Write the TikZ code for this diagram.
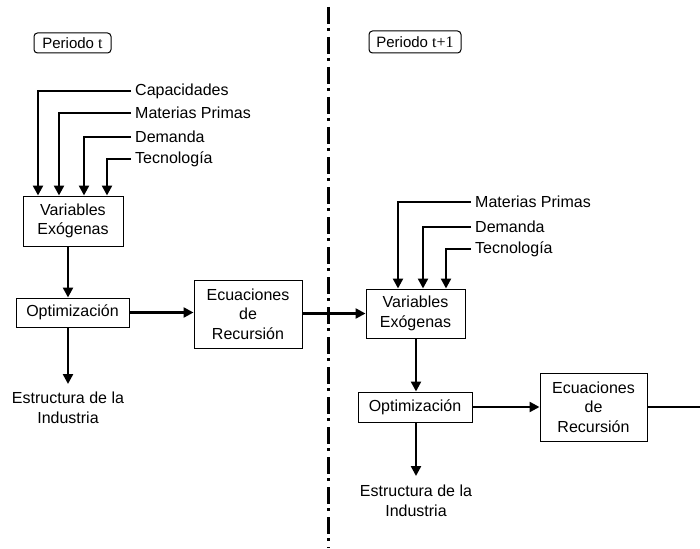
\documentclass[tikz,border=0pt]{standalone}
\usepackage{fontspec}
\setmainfont{Liberation Sans}
\newfontfamily\tfont{Liberation Serif}
\usetikzlibrary{arrows.meta}
\begin{document}
\begin{tikzpicture}[x=1pt,y=-1pt,
  every node/.style={font=\fontsize{16}{19.5}\selectfont},
  box/.style={draw,line width=1pt,align=center,inner sep=0pt},
  tag/.style={draw,line width=1pt,rounded corners=3.5pt,inner sep=0pt,
    font=\fontsize{15}{17}\selectfont},
  input/.style={anchor=west,inner xsep=4pt,inner ysep=0pt},
  plain/.style={align=center,inner sep=0pt},
  link/.style={line width=2.4pt},
  arr/.style={line width=2.4pt,-{Triangle[length=10pt,width=10pt]}}]
\useasboundingbox (0,0) rectangle (700,548);

% period separator
\draw[line width=3pt,dash pattern=on 17pt off 4pt on 3pt off 6pt] (328,7) -- (328,548);

% ---- period t ----
\node[tag,minimum width=77,minimum height=20] (pt) at (72.5,43) {Periodo {\fontsize{16}{17}\tfont t}};

\node[box,minimum width=100,minimum height=50] (var1) at (73,221) {Variables\\Exógenas};
\node[box,minimum width=113,minimum height=29] (opt1) at (72.5,312.5) {Optimización};
\node[box,minimum width=108,minimum height=68] (ecu1) at (248,314) {Ecuaciones\\de\\Recursión};
\node[plain] (est1) at (68,408) {Estructura de la\\Industria};

\node[input] (cap1) at (131,91) {Capacidades};
\node[input] (mat1) at (131,113) {Materias Primas};
\node[input] (dem1) at (131,137) {Demanda};
\node[input] (tec1) at (131,159) {Tecnología};

\draw[arr] (cap1.west) -| ([xshift=-35]var1.north);
\draw[arr] (mat1.west) -| ([xshift=-14]var1.north);
\draw[arr] (dem1.west) -| ([xshift=11]var1.north);
\draw[arr] (tec1.west) -| ([xshift=34]var1.north);

\coordinate (d1) at (68,384);
\draw[arr] ([xshift=-5]var1.south) -- ([xshift=-4.5]opt1.north);
\draw[arr] ([xshift=-4.5]opt1.south) -- (d1);
\draw[arr] (opt1.east) -- (opt1.east -| ecu1.west);

% ---- period t+1 ----
\node[tag,minimum width=92,minimum height=22] (pt1) at (415,42) {Periodo {\fontsize{16}{17}\tfont t+1}};

\node[box,minimum width=99,minimum height=49] (var2) at (415.5,313.5) {Variables\\Exógenas};
\node[box,minimum width=114,minimum height=30] (opt2) at (415,407) {Optimización};
\node[box,minimum width=107,minimum height=68] (ecu2) at (593.5,407) {Ecuaciones\\de\\Recursión};
\node[plain] (est2) at (416,501) {Estructura de la\\Industria};

\node[input] (mat2) at (471,202) {Materias Primas};
\node[input] (dem2) at (471,227) {Demanda};
\node[input] (tec2) at (471,249) {Tecnología};

\draw[arr] (mat2.west) -| ([xshift=-17.5]var2.north);
\draw[arr] (dem2.west) -| ([xshift=7.5]var2.north);
\draw[arr] (tec2.west) -| ([xshift=30.5]var2.north);

\coordinate (d2) at (416,476);
\draw[arr] ([xshift=0.5]var2.south) -- ([xshift=1]opt2.north);
\draw[arr] ([xshift=1]opt2.south) -- (d2);
\draw[arr] (opt2.east) -- (opt2.east -| ecu2.west);

% recursion carried across the boundary
\draw[arr] (ecu1.east |- var2.west) -- (var2.west);
\coordinate (out2) at (700,407);
\draw[link] (ecu2.east) -- (out2);
\end{tikzpicture}
\end{document}
